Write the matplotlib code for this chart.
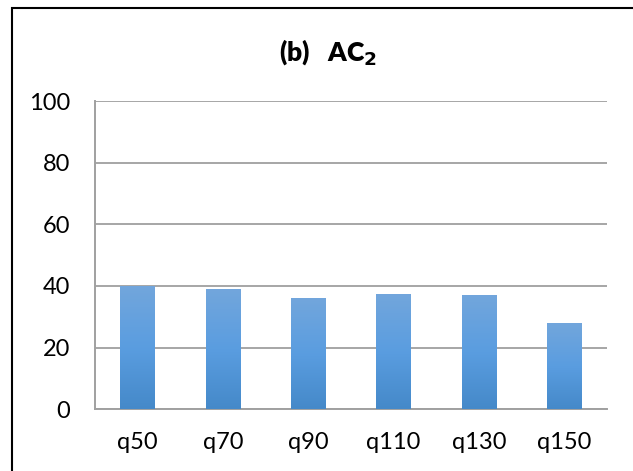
import matplotlib
matplotlib.use("Agg")
import matplotlib.pyplot as plt
import numpy as np
from matplotlib.colors import LinearSegmentedColormap
from matplotlib.patches import Rectangle

categories = ["q50", "q70", "q90", "q110", "q130", "q150"]
values = [39.7, 38.6, 35.7, 37.3, 36.7, 27.7]
y_ticks = [0, 20, 40, 60, 80, 100]

plt.rcParams["font.family"] = ["Lato", "DejaVu Sans"]

W, H = 633, 471
fig = plt.figure(figsize=(W / 100, H / 100), dpi=100)
ax = fig.add_axes([95 / W, 1 - 409.3 / H, (607 - 95) / W, (409.3 - 101) / H])

x = np.arange(len(categories))
bar_w = 0.41
bars = ax.bar(x, values, width=bar_w, color="none", edgecolor="none", zorder=3)

# vertical gradient fill for each bar (lighter at the top)
cmap = LinearSegmentedColormap.from_list("bar", ["#4589c9", "#5a9de0", "#72a6dc"])
grad = np.linspace(0, 1, 256).reshape(-1, 1)
for b in bars:
    x0, w, h = b.get_x(), b.get_width(), b.get_height()
    ax.imshow(grad, cmap=cmap, aspect="auto", origin="lower",
              extent=(x0, x0 + w, 0, h), zorder=3, interpolation="bilinear")

ax.set_xlim(-0.5, len(categories) - 0.5)
ax.set_ylim(0, 100)
ax.set_yticks(y_ticks)
ax.set_xticks(x)
ax.set_xticklabels(categories)
ax.tick_params(axis="both", length=0, labelsize=17, colors="black")
ax.tick_params(axis="y", pad=18)
ax.tick_params(axis="x", pad=16)

ax.grid(axis="y", color="#a6a6a6", linewidth=1.4, zorder=1)
ax.set_axisbelow(True)
for s in ["top", "right"]:
    ax.spines[s].set_visible(False)
for s in ["left", "bottom"]:
    ax.spines[s].set_color("#a0a0a0")
    ax.spines[s].set_linewidth(1.4)

fig.text(328 / W, 1 - 52 / H, r"(b)   AC$_\mathbf{2}$", ha="center", va="center",
         fontsize=19, fontweight="heavy")

# chart frame
fig.patches.append(Rectangle((11.5 / W, -0.1), 1.2, 1 - 8 / H + 0.1,
                             transform=fig.transFigure, fill=False,
                             edgecolor="black", linewidth=1.5))

fig.savefig("out.png", dpi=100)
